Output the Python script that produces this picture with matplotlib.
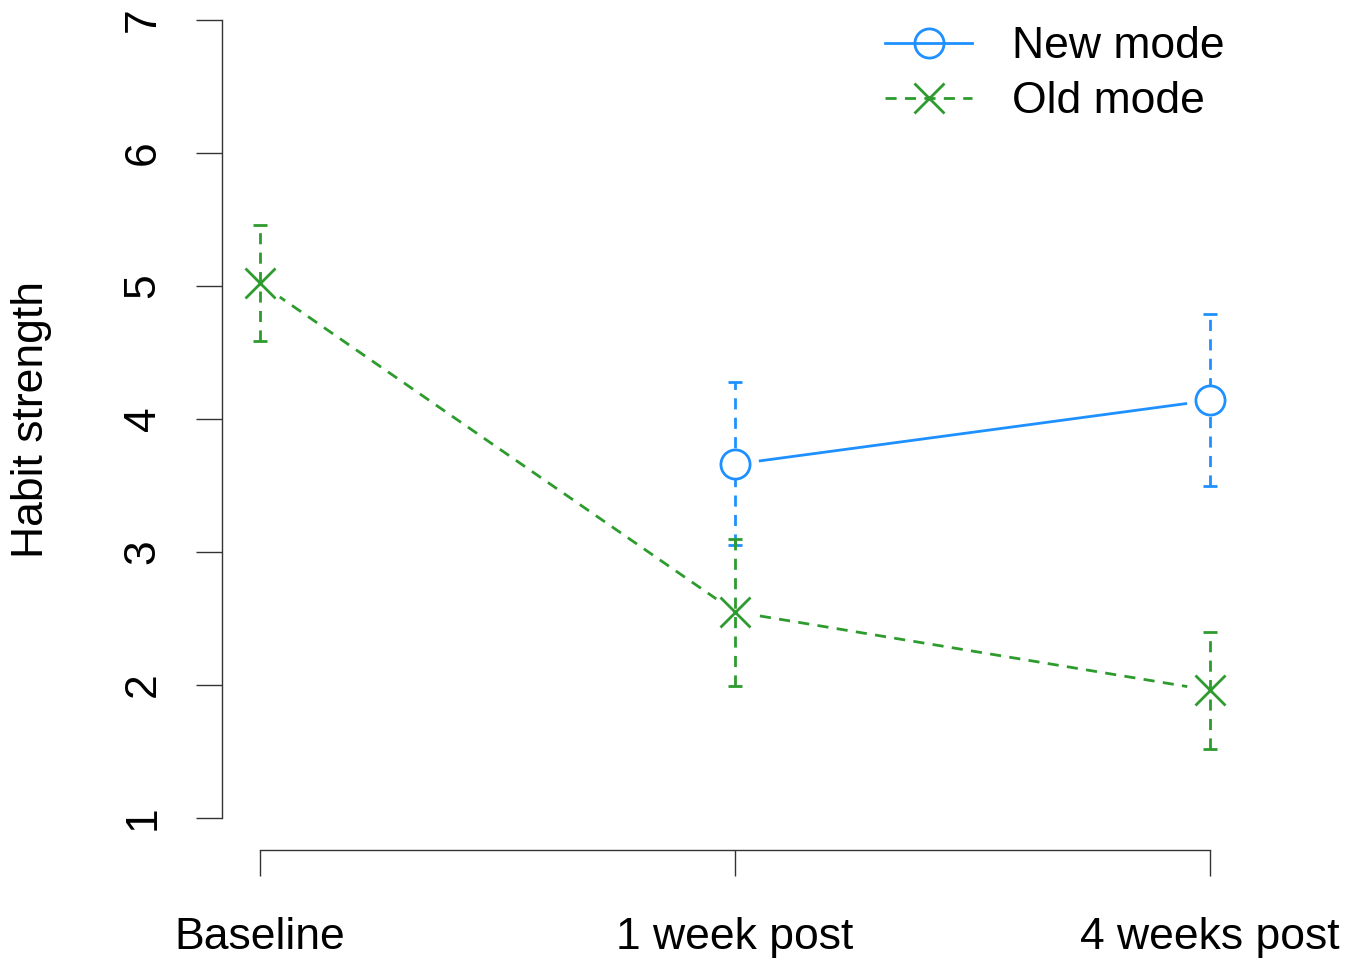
import numpy as np
import matplotlib
matplotlib.use("Agg")
from matplotlib import pyplot as plt
from matplotlib.lines import Line2D

plt.rcParams['font.family'] = ['Liberation Sans', 'DejaVu Sans']

# data
time_labels = ['Baseline', '1 week post', '4 weeks post']
new_x = [1, 2]
new_mean = [3.66, 4.14]
new_lo = [3.05, 3.50]
new_hi = [4.28, 4.79]
old_x = [0, 1, 2]
old_mean = [5.02, 2.55, 1.96]
old_lo = [4.59, 1.99, 1.52]
old_hi = [5.46, 3.10, 2.40]

blue = '#1E90FF'
green = '#2E9B2E'
W, H = 1353, 959
LW = 2.0

fig = plt.figure(figsize=(W / 100, H / 100), dpi=100)
# axes box in pixels: left 222, top 20, right 1353, bottom 850
ax = fig.add_axes([222 / W, (H - 850) / H, (W - 222) / W, (850 - 20) / H])
ymin = 1 - 32 / 133
ax.set_ylim(ymin, 7)
ax.set_xlim(-38 / 475, (W - 260) / 475)

def series(x, m, lo, hi, col, ls, mk):
    x = np.array(x); m = np.array(m)
    ax.plot(x, m, color=col, lw=LW, ls=ls, zorder=1)
    # white halo to cut the line near the points (like R type="b")
    ax.plot(x, m, 'o', ms=34, mfc='white', mec='none', zorder=2)
    eb = ax.errorbar(x, m, yerr=[m - np.array(lo), np.array(hi) - m], fmt='none',
                     ecolor=col, elinewidth=LW, capsize=5, capthick=LW, zorder=3)
    eb[2][0].set_linestyle((0, (4, 3)))
    if mk == 'o':
        ax.plot(x, m, 'o', ms=21, mfc='white', mec=col, mew=LW, zorder=4)
    else:
        ax.plot(x, m, 'x', ms=22, mec=col, mew=LW, zorder=4)

series(new_x, new_mean, new_lo, new_hi, blue, '-', 'o')
series(old_x, old_mean, old_lo, old_hi, green, (0, (4, 3)), 'x')

for s in ['top', 'right']:
    ax.spines[s].set_visible(False)
ax.spines['left'].set_bounds(1, 7)
ax.spines['bottom'].set_bounds(0, 2)
for s in ['left', 'bottom']:
    ax.spines[s].set_linewidth(1.0)
    ax.spines[s].set_color('#333333')

ax.set_yticks(range(1, 8))
ax.set_yticklabels([str(v) for v in range(1, 8)], rotation=90, va='center')
ax.set_xticks([0, 1, 2])
ax.set_xticklabels(time_labels)
ax.tick_params(axis='both', length=19, width=1.0, color='#333333', labelsize=32)
ax.tick_params(axis='y', pad=23)
ax.tick_params(axis='x', pad=29)
ax.set_ylabel('Habit strength', fontsize=32)
# centre the label on y = 4, like the reference
ax.yaxis.set_label_coords(-0.150, (4 - ymin) / (7 - ymin))

handles = [Line2D([], [], color=blue, lw=LW, marker='o', ms=21, mfc='none', mec=blue, mew=LW),
           Line2D([], [], color=green, lw=LW, ls=(0, (4, 3)), marker='x', ms=22, mec=green, mew=LW)]
fig.legend(handles, ['New mode', 'Old mode'], loc='upper left',
           bbox_to_anchor=(863 / W, 1 - 4 / H), frameon=False, fontsize=32,
           handlelength=1.95, handletextpad=0.9, labelspacing=0.32, borderpad=0)

fig.savefig('out.png', dpi=100)
